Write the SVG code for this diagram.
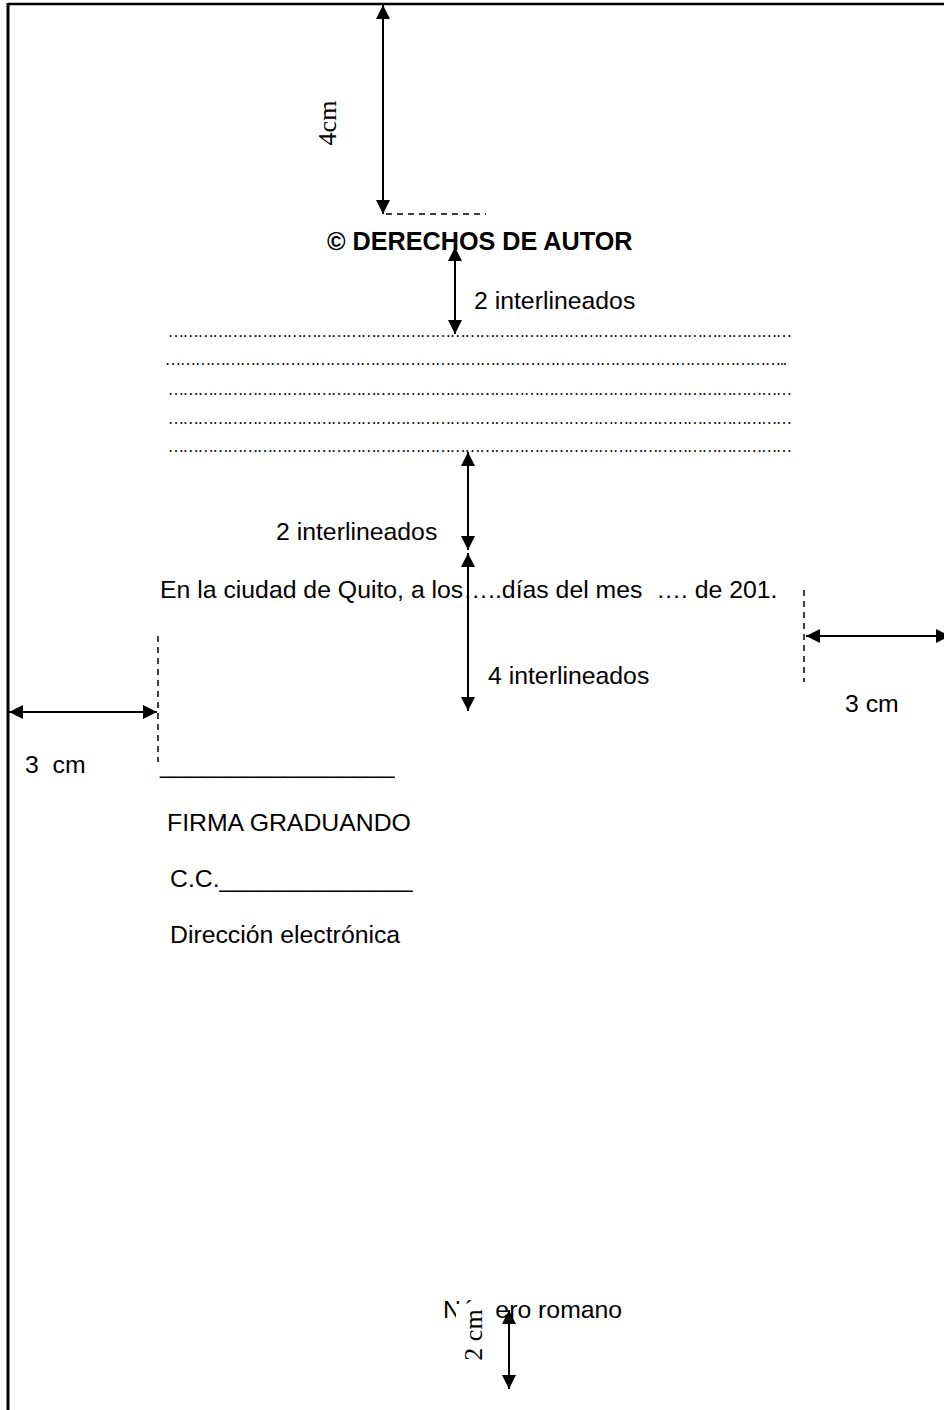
<svg xmlns="http://www.w3.org/2000/svg" width="944" height="1410" viewBox="0 0 944 1410">
<style>
.t{font-family:"Liberation Sans",Arial,sans-serif;font-size:24.8px;fill:#000}
.b{font-weight:bold;font-size:25.2px}
.s{font-family:"Liberation Serif","Times New Roman",serif;font-size:26px;fill:#000}
.dots{font-family:"Liberation Serif","Times New Roman",serif;font-size:16px;fill:#000}
.arr{stroke:#000;stroke-width:2;fill:none;marker-start:url(#ah);marker-end:url(#ah)}
.dash{stroke:#000;stroke-width:1.5;stroke-dasharray:6 5;fill:none}
</style>
<defs>
<marker id="ah" viewBox="0 0 14 14" refX="14" refY="7" markerWidth="14" markerHeight="14" markerUnits="userSpaceOnUse" orient="auto-start-reverse">
<path d="M0,0 L14,7 L0,14 Z" fill="#000"/>
</marker>
</defs>
<rect width="944" height="1410" fill="#fff"/>
<g id="page">
<line x1="8" y1="4" x2="944" y2="4" stroke="#000" stroke-width="2.5"/>
<line x1="8" y1="3" x2="8" y2="1410" stroke="#000" stroke-width="3"/>
</g>
<g id="connectors">
<line class="arr" x1="383" y1="5" x2="383" y2="214"/>
<line class="dash" x1="386" y1="214" x2="486" y2="214"/>
<line class="arr" x1="455" y1="247" x2="455" y2="334"/>
<line class="arr" x1="468" y1="452" x2="468" y2="550"/>
<line class="arr" x1="468" y1="553" x2="468" y2="711"/>
<line class="dash" x1="804" y1="590" x2="804" y2="682"/>
<line class="arr" x1="806" y1="636" x2="950" y2="636"/>
<line class="dash" x1="158" y1="636" x2="158" y2="762"/>
<line class="arr" x1="9" y1="712" x2="157" y2="712"/>
</g>
<g id="label-4cm"><text class="s" transform="translate(336,123) rotate(-90)" text-anchor="middle">4cm</text></g>
<g id="title"><text class="t b" x="327" y="250">© DERECHOS DE AUTOR</text></g>
<g id="label-2int-a"><text class="t" x="474" y="309">2 interlineados</text></g>
<g id="dotted-lines">
<text class="dots" x="168" y="337" textLength="624" lengthAdjust="spacing">………………………………………………………………………………………………………………</text>
<text class="dots" x="165" y="365" textLength="622" lengthAdjust="spacing">……………………………………………………………………………………………………………..</text>
<text class="dots" x="168" y="395" textLength="624" lengthAdjust="spacing">………………………………………………………………………………………………………………</text>
<text class="dots" x="168" y="424" textLength="624" lengthAdjust="spacing">………………………………………………………………………………………………………………</text>
<text class="dots" x="168" y="452" textLength="624" lengthAdjust="spacing">………………………………………………………………………………………………………………</text>
</g>
<g id="label-2int-b"><text class="t" x="276" y="540">2 interlineados</text></g>
<g id="city"><text class="t" x="160" y="598" xml:space="preserve">En la ciudad de Quito, a los…..días del mes  …. de 201.</text></g>
<g id="label-4int"><text class="t" x="488" y="684">4 interlineados</text></g>
<g id="label-3cm-right"><text class="t" x="845" y="712">3 cm</text></g>
<g id="label-3cm-left"><text class="t" x="25" y="773" xml:space="preserve">3  cm</text></g>
<g id="signature">
<text class="t" x="160" y="773">_________________</text>
<text class="t" x="167" y="831">FIRMA GRADUANDO</text>
<text class="t" x="170" y="887">C.C.______________</text>
<text class="t" x="170" y="943">Dirección electrónica</text>
</g>
<g id="footer">
<text class="t" x="443" y="1318">Número romano</text>
<rect x="456" y="1304" width="40" height="66" fill="#fff"/>
<text class="s" transform="translate(482,1335) rotate(-90)" text-anchor="middle">2 cm</text>
<line class="arr" x1="509" y1="1310" x2="509" y2="1389"/>
</g>
</svg>
